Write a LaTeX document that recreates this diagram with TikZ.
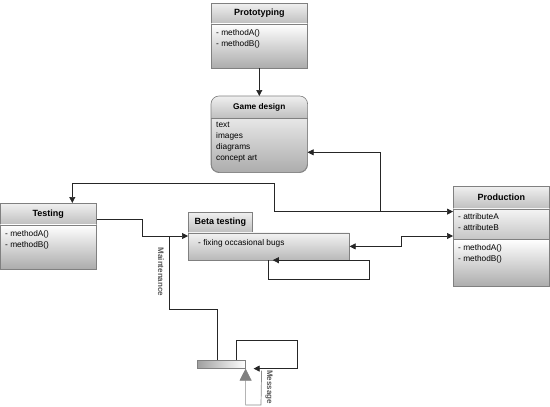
\documentclass[tikz,border=0pt]{standalone}
\usepackage{fontspec}
\setmainfont{Liberation Sans}
\usetikzlibrary{arrows.meta,positioning}

\begin{document}
\begin{tikzpicture}[
			x=1pt, y=-1pt,
			hdr/.style={
				draw=gray,
				line width=0.6pt,
				top color=gray!12,
				bottom color=gray!50,
				anchor=north west,
				inner sep=0,
				font=\bfseries\fontsize{9}{11}\selectfont
			},
			sect/.style={
				draw=gray,
				line width=0.6pt,
				top color=white,
				bottom color=gray!65,
				anchor=north west,
				inner sep=0
			},
			txt/.style={
				inner sep=0,
				anchor=north west,
				align=left,
				font=\fontsize{8.3}{10.5}\selectfont
			},
			lbl/.style={
				inner sep=0,
				text=gray!70!black,
				font=\bfseries\fontsize{8}{9}\selectfont
			},
			link/.style={
				line width=0.7pt,
				draw=black!85
			},
			arr/.style={
				link,
				-{Triangle[width=6pt,length=6pt]}
			},
			arrboth/.style={
				link,
				{Triangle[width=6pt,length=6pt]}-{Triangle[width=6pt,length=6pt]}
			},
			msg/.style={
				line width=0.7pt,
				draw=gray!90,
				-{Triangle[width=12pt,length=12pt,fill=gray,color=gray]}
			}
		]

		\useasboundingbox (0,0) rectangle (550,407);

		% Prototyping
		\node [hdr, minimum width=96pt, minimum height=20pt] (protoH) at (211,3) {Prototyping};
		\node [sect, minimum width=96pt, minimum height=44pt] (protoB) at (protoH.south west) {};
		\node [txt] (protoT) at ([shift={(5,6)}]protoB.north west) {- methodA()\\- methodB()};

		% Game design
		\node [sect, rounded corners=8pt, minimum width=96pt, minimum height=76pt] (gdB) at (211,96) {};
		\begin{scope}
			\clip [rounded corners=8pt] (gdB.north west) rectangle (gdB.south east);
			\shade [top color=gray!12, bottom color=gray!50] (gdB.north west) rectangle ([yshift=-22pt]gdB.north east);
		\end{scope}
		\draw [gray, line width=0.6pt, rounded corners=8pt] (gdB.north west) rectangle (gdB.south east);
		\draw [gray, line width=0.6pt] ([yshift=-22pt]gdB.north west) -- ([yshift=-22pt]gdB.north east);
		\node [font=\bfseries\fontsize{8.3}{10}\selectfont] (gdH) at ([yshift=-11pt]gdB.north) {Game design};
		\node [txt, font=\fontsize{8.3}{11}\selectfont] (gdT) at ([shift={(5,4)}]gdB.north west |- 0,118) {text\\images\\diagrams\\concept art};

		% Testing
		\node [hdr, minimum width=96pt, minimum height=21pt] (testH) at (0,203) {Testing};
		\node [sect, minimum width=96pt, minimum height=44pt] (testB) at (testH.south west) {};
		\node [txt] (testT) at ([shift={(5,6)}]testB.north west) {- methodA()\\- methodB()};

		% Beta testing
		\node [hdr, minimum width=64pt, minimum height=20pt] (betaH) at (188,212) {Beta testing};
		\node [sect, top color=gray!10, bottom color=gray!55, minimum width=161pt, minimum height=27pt] (betaB) at (betaH.south west) {};
		\node [txt] (betaT) at ([shift={(10,7)}]betaB.north west) {- fixing occasional bugs};

		% Production
		\node [hdr, minimum width=96pt, minimum height=22pt] (prodH) at (453,186) {Production};
		\node [sect, top color=gray!8, bottom color=gray!45, minimum width=96pt, minimum height=30pt] (prodA) at (prodH.south west) {};
		\node [txt, font=\fontsize{8.3}{11}\selectfont] (prodAT) at ([shift={(5,5)}]prodA.north west) {- attributeA\\- attributeB};
		\node [sect, minimum width=96pt, minimum height=47pt] (prodM) at (prodA.south west) {};
		\node [txt, font=\fontsize{8.3}{11}\selectfont] (prodMT) at ([shift={(5,5)}]prodM.north west) {- methodA()\\- methodB()};

		% bar
		\node [draw=gray, line width=0.6pt, left color=gray!75, right color=white, anchor=north west,
			inner sep=0, minimum width=48pt, minimum height=8pt] (bar) at (197,360) {};

		% links
		\coordinate (jTest) at (274,183);
		\coordinate (jGD) at (380,211);
		\coordinate (jBeta) at (142,236);
		\coordinate (jMaint) at (169,236);
		\coordinate (jM2) at (217,309);
		\coordinate (jProd) at (401,236);
		\coordinate (jLoop) at (369,279);
		\coordinate (jBar) at (297,340);
		\coordinate (jMsg) at (261,405);

		\draw [arr] (protoB) -- (gdB);
		\draw [arrboth] ([xshift=24pt]testH.north) |- (jTest) |- ([yshift=-3pt]prodA.north west);
		\draw [arr] (jGD) |- ([yshift=-18pt]gdB.east);
		\draw [arr] ([yshift=5pt]testH.south east) -| (jBeta) -- (jBeta -| betaB.west);
		\draw [link] (jMaint) |- (jM2) -- (jM2 |- bar.north);
		\draw [arrboth] (betaB.east) -- (betaB.east -| jProd) -- (jProd) -- (jProd -| prodA.west);
		\draw [arr] (betaB.south) |- (jLoop) |- ([xshift=4pt]betaB.south);
		\draw [arr] ([xshift=-9pt]bar.north east) |- (jBar) |- ([xshift=8pt]bar.south east);
		\draw [msg] ([shift={(16,2)}]bar.south east) -- (jMsg) -| (bar.south east);

		\node [lbl, rotate=-90] (maintL) at (161,272) {Maintenance};
		\node [lbl, rotate=-90] (msgL) at (269,387) {Message};

	\end{tikzpicture}
\end{document}
